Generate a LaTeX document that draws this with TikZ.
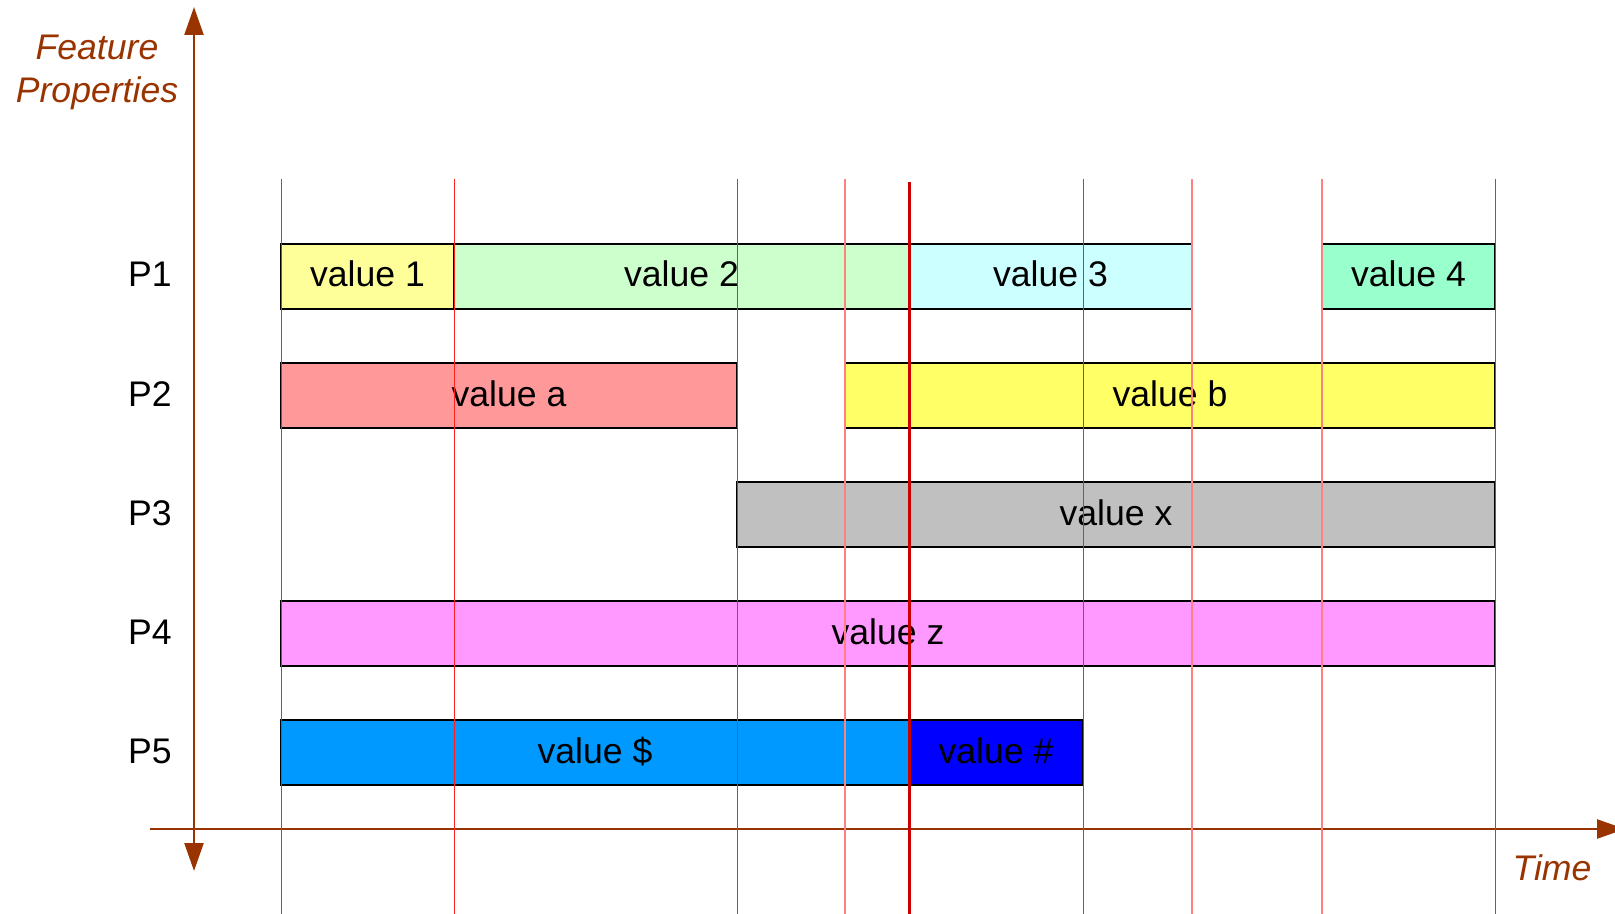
\documentclass[tikz,border=0pt]{standalone}
\usepackage{fontspec}
\setmainfont{Liberation Sans}
\usetikzlibrary{arrows.meta}
\definecolor{axisbrown}{HTML}{993300}
\definecolor{cone}{HTML}{FFFF99}
\definecolor{ctwo}{HTML}{CCFFCC}
\definecolor{cthree}{HTML}{CCFFFF}
\definecolor{cfour}{HTML}{99FFCC}
\definecolor{ca}{HTML}{FF9999}
\definecolor{cb}{HTML}{FFFF66}
\definecolor{cx}{HTML}{C0C0C0}
\definecolor{cz}{HTML}{FF99FF}
\definecolor{cdollar}{HTML}{0099FF}
\definecolor{chash}{HTML}{0000FF}
\definecolor{tickred}{HTML}{FF2020}
\definecolor{tickpink}{HTML}{FF8080}
\definecolor{nowred}{HTML}{CC0000}

\begin{document}
\begin{tikzpicture}[x=0.5pt,y=-0.5pt,
  bar/.style={draw=black,line width=1pt},
  val/.style={font=\fontsize{17.8}{20}\selectfont,anchor=base,inner sep=0pt},
  axislbl/.style={font=\fontsize{17.8}{21.5}\selectfont\itshape,text=axisbrown,inner sep=0pt},
  axis/.style={draw=axisbrown,line width=1.2pt},
  tickline/.style={draw=tickred,line width=0.45pt},
  softline/.style={draw=tickpink,line width=0.6pt}]
  \useasboundingbox (0,0) rectangle (1615,914);

  % axes
  \draw[axis,{Triangle[length=14pt,width=9.5pt]}-{Triangle[length=14pt,width=9.5pt]}] (194,871) -- (194,7);
  \draw[axis,-{Triangle[length=14pt,width=9.5pt]}] (150,829) -- (1625,829);
  \node[axislbl,align=center] (fp) at (97,72) {Feature\\Properties};
  \node[axislbl,anchor=base] (time) at (1552,880) {Time};

  % property names
  \node[val] (p1) at (150,287) {P1};
  \node[val] (p2) at (150,406) {P2};
  \node[val] (p3) at (150,525) {P3};
  \node[val] (p4) at (150,644) {P4};
  \node[val] (p5) at (150,763) {P5};

  % P1
  \draw[bar,fill=cone] (281,244) rectangle (454,309);
  \draw[bar,fill=ctwo] (454,244) rectangle (909,309);
  \draw[bar,fill=cthree] (909,244) rectangle (1192,309);
  \draw[bar,fill=cfour] (1322,244) rectangle (1495,309);
  \node[val] (v1) at (367.5,287) {value 1};
  \node[val] (v2) at (681.5,287) {value 2};
  \node[val] (v3) at (1050.5,287) {value 3};
  \node[val] (v4) at (1408.5,287) {value 4};

  % P2
  \draw[bar,fill=ca] (281,363) rectangle (737,428);
  \draw[bar,fill=cb] (845,363) rectangle (1495,428);
  \node[val] (va) at (509,406) {value a};
  \node[val] (vb) at (1170,406) {value b};

  % P3
  \draw[bar,fill=cx] (737,482) rectangle (1495,547);
  \node[val] (vx) at (1116,525) {value x};

  % P4
  \draw[bar,fill=cz] (281,601) rectangle (1495,666);
  \node[val] (vz) at (888,644) {value z};

  % P5
  \draw[bar,fill=cdollar] (281,720) rectangle (909,785);
  \draw[bar,fill=chash] (909,720) rectangle (1083,785);
  \node[val] (vd) at (595,763) {value \$};
  \node[val] (vh) at (996,763) {value \#};

  % time marks
  \foreach \t in {281,454,737,1083,1495}
    \draw[tickline] (\t,179) -- (\t,914);
  \foreach \t in {845,1192,1322}
    \draw[softline] (\t,179) -- (\t,914);
  \draw[draw=nowred,line width=1.5pt] (909,182) -- (909,914);
\end{tikzpicture}
\end{document}
